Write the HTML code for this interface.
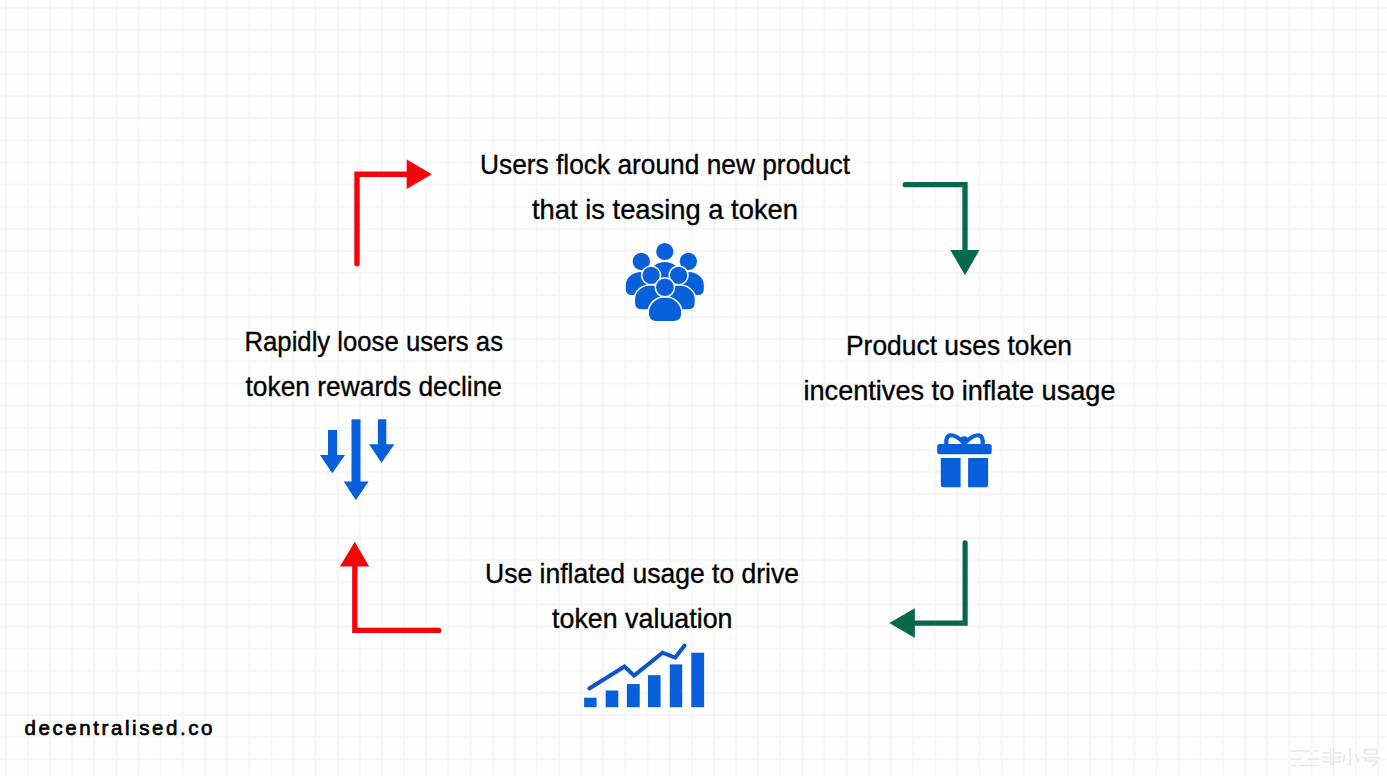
<!DOCTYPE html>
<html>
<head>
<meta charset="utf-8">
<style>
html,body{margin:0;padding:0;}
body{width:1387px;height:776px;overflow:hidden;background:#fefefe;position:relative;font-family:"Liberation Sans",sans-serif;}
svg{position:absolute;left:0;top:0;}
</style>
</head>
<body>
<svg width="1387" height="776" viewBox="0 0 1387 776">
  <defs>
    <pattern id="grid" x="4.8" y="6.8" width="22.13" height="22.1" patternUnits="userSpaceOnUse">
      <rect x="0" y="0" width="2" height="22.1" fill="#f7f7f8"/>
      <rect x="0" y="0" width="22.13" height="2" fill="#f7f7f8"/>
    </pattern>
  </defs>
  <rect x="0" y="0" width="1387" height="776" fill="#fefefe"/>
  <rect x="0" y="0" width="1387" height="776" fill="url(#grid)"/>

  <!-- red arrow top-left -->
  <path d="M357 263.7 L357 174.2 L409 174.2" fill="none" stroke="#f4050b" stroke-width="5.4" stroke-linecap="round" stroke-linejoin="miter"/>
  <polygon points="406.7,159.6 431.8,174.3 406.7,188.9" fill="#f4050b"/>

  <!-- green arrow top-right -->
  <path d="M905.3 184.7 L965 184.7 L965 252" fill="none" stroke="#07694c" stroke-width="5.3" stroke-linecap="round" stroke-linejoin="miter"/>
  <polygon points="950.3,250 979.5,250 965,275.3" fill="#07694c"/>

  <!-- green arrow bottom-right -->
  <path d="M965.1 542.9 L965.1 623.2 L913 623.2" fill="none" stroke="#07694c" stroke-width="5.2" stroke-linecap="round" stroke-linejoin="miter"/>
  <polygon points="914.9,608.2 914.9,638 889.3,623.1" fill="#07694c"/>

  <!-- red arrow bottom-left -->
  <path d="M438.8 630.4 L354.8 630.4 L354.8 564" fill="none" stroke="#f4050b" stroke-width="5.3" stroke-linecap="round" stroke-linejoin="miter"/>
  <polygon points="339.9,566.5 369.2,566.5 354.8,541.7" fill="#f4050b"/>

  <!-- text -->
  <g font-family="Liberation Sans, sans-serif" font-size="28" fill="#000" stroke="#000" stroke-width="0.35">
    <text x="480" y="173.9" textLength="370" lengthAdjust="spacingAndGlyphs">Users flock around new product</text>
    <text x="532" y="218.5" textLength="266" lengthAdjust="spacingAndGlyphs">that is teasing a token</text>
    <text x="846" y="355" textLength="226" lengthAdjust="spacingAndGlyphs">Product uses token</text>
    <text x="803.5" y="399.7" textLength="312" lengthAdjust="spacingAndGlyphs">incentives to inflate usage</text>
    <text x="244.5" y="351.3" textLength="258.5" lengthAdjust="spacingAndGlyphs">Rapidly loose users as</text>
    <text x="245.5" y="395.7" textLength="256.5" lengthAdjust="spacingAndGlyphs">token rewards decline</text>
    <text x="485" y="582.6" textLength="314" lengthAdjust="spacingAndGlyphs">Use inflated usage to drive</text>
    <text x="552" y="627.8" textLength="180.5" lengthAdjust="spacingAndGlyphs">token valuation</text>
  </g>
  <text x="24.5" y="735" font-family="Liberation Sans, sans-serif" font-size="20.5" fill="#000" stroke="#000" stroke-width="0.7" textLength="188" lengthAdjust="spacing">decentralised.co</text>

  <!-- people icon -->
  <g fill="#075fd9" stroke="#fefefe" stroke-width="3.2" paint-order="stroke">
    <path d="M625.8 289 L625.8 285 A15.35 13 0 0 1 656.5 285 L656.5 289 Q656.5 295 650.5 295 L631.8 295 Q625.8 295 625.8 289 Z" stroke="none"/>
    <path d="M673.2 289 L673.2 285 A15.3 13 0 0 1 703.8 285 L703.8 289 Q703.8 295 697.8 295 L679.2 295 Q673.2 295 673.2 289 Z" stroke="none"/>
    <path d="M650 281 L650 274 A14.75 12 0 0 1 679.5 274 L679.5 281 Q679.5 285 675.5 285 L654 285 Q650 285 650 281 Z" stroke="none"/>
    <circle cx="641.3" cy="261.3" r="8.6" stroke="none"/>
    <circle cx="688.4" cy="261.3" r="8.6" stroke="none"/>
    <circle cx="664.8" cy="251.5" r="8.6" stroke="none"/>
    <path d="M635.1 302.7 L635.1 299.5 A15.7 14 0 0 1 666.5 299.5 L666.5 302.7 Q666.5 309.2 660.0 309.2 L641.6 309.2 Q635.1 309.2 635.1 302.7 Z"/>
    <path d="M663.3 302.7 L663.3 299.5 A15.7 14 0 0 1 694.7 299.5 L694.7 302.7 Q694.7 309.2 688.2 309.2 L669.8 309.2 Q663.3 309.2 663.3 302.7 Z"/>
    <circle cx="651.1" cy="275.4" r="8.6"/>
    <circle cx="678.6" cy="275.4" r="8.6"/>
    <path d="M649 313.5 L649 312.5 A16.05 15 0 0 1 681.1 312.5 L681.1 313.5 Q681.1 321 673.6 321 L656.5 321 Q649 321 649 313.5 Z"/>
    <circle cx="664.9" cy="287.3" r="8.8"/>
  </g>
  <!-- gift icon -->
  <g fill="#075fd9">
    <rect x="937.2" y="443.9" width="54.5" height="10.4" rx="2.5"/>
    <path d="M940.8 457.9 H960.6 V487.2 H943.3 Q940.8 487.2 940.8 484.7 Z"/>
    <path d="M968.1 457.9 H988.1 V484.7 Q988.1 487.2 985.6 487.2 H968.1 Z"/>
    <circle cx="964.2" cy="440.3" r="4"/>
  </g>
  <g fill="none" stroke="#075fd9" stroke-width="4.2" stroke-linecap="round">
    <path d="M962.5 441.5 C958 437 953 435 950 435.3 C947 435.6 946 438.5 946.3 444"/>
    <path d="M966.5 441.5 C971 437 976 435 979 435.3 C982 435.6 983 438.5 982.7 444"/>
  </g>

  <!-- chart icon -->
  <g fill="#075fd9">
    <rect x="584.1" y="697.7" width="12.5" height="9.5"/>
    <rect x="605.7" y="690.5" width="12.6" height="16.7"/>
    <rect x="626.9" y="684" width="12.8" height="23.2"/>
    <rect x="648" y="675.2" width="12.6" height="32"/>
    <rect x="669.8" y="664.4" width="12.4" height="42.8"/>
    <rect x="691.3" y="652.7" width="12.8" height="54.5"/>
  </g>
  <polyline points="589.3,688.5 624.5,666.6 634.1,675.6 662.6,652.7 675.2,657.6 684.6,645.5" fill="none" stroke="#0b55c9" stroke-width="4" stroke-linecap="round" stroke-linejoin="miter"/>

  <!-- down arrows icon -->
  <g fill="#075fd9">
    <rect x="328" y="430" width="9.1" height="26"/>
    <polygon points="320,455.1 345.1,455.1 332.2,473.2"/>
    <rect x="351.5" y="419.3" width="9" height="63"/>
    <polygon points="343.8,481.5 368.6,481.5 355.8,500.2"/>
    <rect x="377.9" y="419.3" width="8.4" height="26"/>
    <polygon points="369,444.2 394.4,444.2 381.5,462.8"/>
  </g>
  <!-- watermark -->
  <g fill="none" stroke="#e8e8e8" stroke-width="1.6" stroke-linecap="round">
    <path d="M1291.5 751 H1310.5 M1314 751 H1318.5 M1291.5 759 H1300.5 M1308.5 759 H1318.5 M1291.5 765.5 H1296 M1299.5 765.5 H1319"/>
    <path d="M1323.2 752.9 H1328.4 M1323.2 757.3 H1328.4 M1323.2 761.7 H1328.4 M1330.6 748.8 V764.5 M1333.6 748.8 V764.5 M1335.7 752.9 H1340.9 M1335.7 757.3 H1340.9 M1335.7 761.7 H1340.9"/>
    <path d="M1350.2 748.8 V764.5 L1348.5 765 M1344.5 755 L1343.6 761.5 M1355.5 755 L1358.5 761.5"/>
    <path d="M1364.8 749.6 H1376.5 V754 H1364.8 Z M1361.5 757.8 H1378.4 M1366.5 757.8 L1365.2 761 H1376.5 Q1376.8 765 1372.5 765.5"/>
  </g>
  <g fill="none" stroke="#ffffff" stroke-width="1" opacity="0.9">
    <path d="M1291.5 749.2 H1310.5 M1291.5 757.2 H1300.5 M1308.5 757.2 H1318.5 M1299.5 763.7 H1319"/>
  </g>
</svg>
</body>
</html>
